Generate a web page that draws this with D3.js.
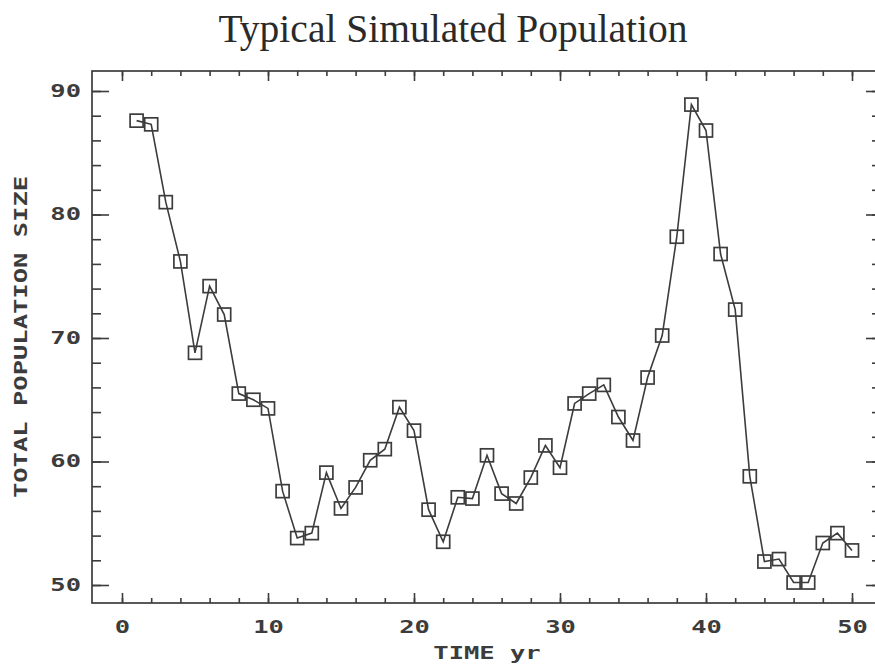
<!DOCTYPE html>
<html>
<head>
<meta charset="utf-8">
<script src="https://cdn.jsdelivr.net/npm/d3@7"></script>
<style>
  html, body { margin: 0; padding: 0; background: #fff; }
  svg { display: block; }
</style>
</head>
<body>
<svg id="chart" width="875" height="669"></svg>
<script>
// ---- data ----
const years = d3.range(1, 51);
const population = [
  87.6, 87.3, 81.0, 76.2, 68.8, 74.2, 71.9, 65.5, 65.0, 64.3,
  57.6, 53.8, 54.2, 59.1, 56.2, 57.9, 60.1, 61.0, 64.4, 62.5,
  56.1, 53.5, 57.1, 57.0, 60.5, 57.4, 56.6, 58.7, 61.3, 59.5,
  64.7, 65.5, 66.2, 63.6, 61.7, 66.8, 70.2, 78.2, 88.9, 86.8,
  76.8, 72.3, 58.8, 51.9, 52.1, 50.2, 50.2, 53.4, 54.2, 52.8
];
const xMajorTicks = [0, 10, 20, 30, 40, 50];
const xMinorTicks = d3.range(0, 51, 2);
const yMajorTicks = [50, 60, 70, 80, 90];
const yMinorTicks = d3.range(50, 91, 2);
const titleText = "Typical Simulated Population";
const xTitle = "TIME yr";
const yTitle = "TOTAL POPULATION SIZE";

// ---- layout ----
const frame = { left: 92, right: 877, top: 71, bottom: 603 };
const ink = "#3c3c3c";
const monoFont = "'DejaVu Sans Mono', monospace";
const sx = 1.5; // horizontal stretch of the plotter-style font

const svg = d3.select("#chart");
const x = d3.scaleLinear().domain([0, 50]).range([122, 852]);
const y = d3.scaleLinear().domain([50, 90]).range([585, 91]);

// title
svg.append("text")
  .attr("x", 453).attr("y", 42)
  .attr("text-anchor", "middle")
  .attr("font-family", "'Liberation Serif', 'Times New Roman', serif")
  .attr("font-size", 39.5)
  .attr("fill", "#2a2a2a")
  .text(titleText);

// frame
svg.append("rect")
  .attr("x", frame.left).attr("y", frame.top)
  .attr("width", frame.right - frame.left)
  .attr("height", frame.bottom - frame.top)
  .attr("fill", "none").attr("stroke", ink).attr("stroke-width", 1.7);

function styleAxis(g) {
  g.select(".domain").remove();
  g.selectAll("line").attr("stroke", ink).attr("stroke-width", 1.6);
}

// bottom ticks
svg.append("g").attr("transform", `translate(0,${frame.bottom})`)
  .call(d3.axisBottom(x).tickValues(xMinorTicks).tickSize(-5).tickFormat(""))
  .call(styleAxis).selectAll("text").remove();
const xb = svg.append("g").attr("transform", `translate(0,${frame.bottom})`)
  .call(d3.axisBottom(x).tickValues(xMajorTicks).tickSize(-10).tickPadding(18).tickFormat(d3.format("d")))
  .call(styleAxis);
xb.selectAll("text")
  .attr("font-family", monoFont).attr("font-weight", "bold").attr("font-size", 17)
  .attr("fill", ink)
  .attr("transform", `scale(${sx},1)`);

// top ticks
svg.append("g").attr("transform", `translate(0,${frame.top})`)
  .call(d3.axisTop(x).tickValues(xMinorTicks).tickSize(-5).tickFormat(""))
  .call(styleAxis).selectAll("text").remove();
svg.append("g").attr("transform", `translate(0,${frame.top})`)
  .call(d3.axisTop(x).tickValues(xMajorTicks).tickSize(-10).tickFormat(""))
  .call(styleAxis).selectAll("text").remove();

// left ticks
svg.append("g").attr("transform", `translate(${frame.left},0)`)
  .call(d3.axisLeft(y).tickValues(yMinorTicks).tickSize(-9).tickFormat(""))
  .call(styleAxis).selectAll("text").remove();
const yl = svg.append("g").attr("transform", `translate(${frame.left},0)`)
  .call(d3.axisLeft(y).tickValues(yMajorTicks).tickSize(-17).tickPadding(12).tickFormat(d3.format("d")))
  .call(styleAxis);
yl.selectAll("text")
  .attr("font-family", monoFont).attr("font-weight", "bold").attr("font-size", 17)
  .attr("fill", ink)
  .attr("x", -11 / sx)
  .attr("transform", `scale(${sx},1)`);

// right ticks
svg.append("g").attr("transform", `translate(${frame.right},0)`)
  .call(d3.axisRight(y).tickValues(yMinorTicks).tickSize(-5).tickFormat(""))
  .call(styleAxis).selectAll("text").remove();
svg.append("g").attr("transform", `translate(${frame.right},0)`)
  .call(d3.axisRight(y).tickValues(yMajorTicks).tickSize(-11).tickFormat(""))
  .call(styleAxis).selectAll("text").remove();

// axis titles
svg.append("text")
  .attr("transform", `translate(487,659) scale(${sx},1)`)
  .attr("text-anchor", "middle")
  .attr("font-family", monoFont).attr("font-weight", "bold").attr("font-size", 17)
  .attr("fill", ink)
  .text(xTitle);
svg.append("text")
  .attr("transform", `translate(27,337) rotate(-90) scale(${sx},1)`)
  .attr("text-anchor", "middle")
  .attr("font-family", monoFont).attr("font-weight", "bold").attr("font-size", 17)
  .attr("fill", ink)
  .text(yTitle);

// series
const pts = years.map((t, i) => ({ t, v: population[i] }));
svg.append("path")
  .datum(pts)
  .attr("fill", "none").attr("stroke", ink).attr("stroke-width", 1.6)
  .attr("d", d3.line().x(d => x(d.t)).y(d => y(d.v)));

const m = 13;
svg.append("g").selectAll("rect")
  .data(pts).join("rect")
  .attr("x", d => x(d.t) - m / 2).attr("y", d => y(d.v) - m / 2)
  .attr("width", m).attr("height", m)
  .attr("fill", "none").attr("stroke", ink).attr("stroke-width", 1.7);
</script>
</body>
</html>
